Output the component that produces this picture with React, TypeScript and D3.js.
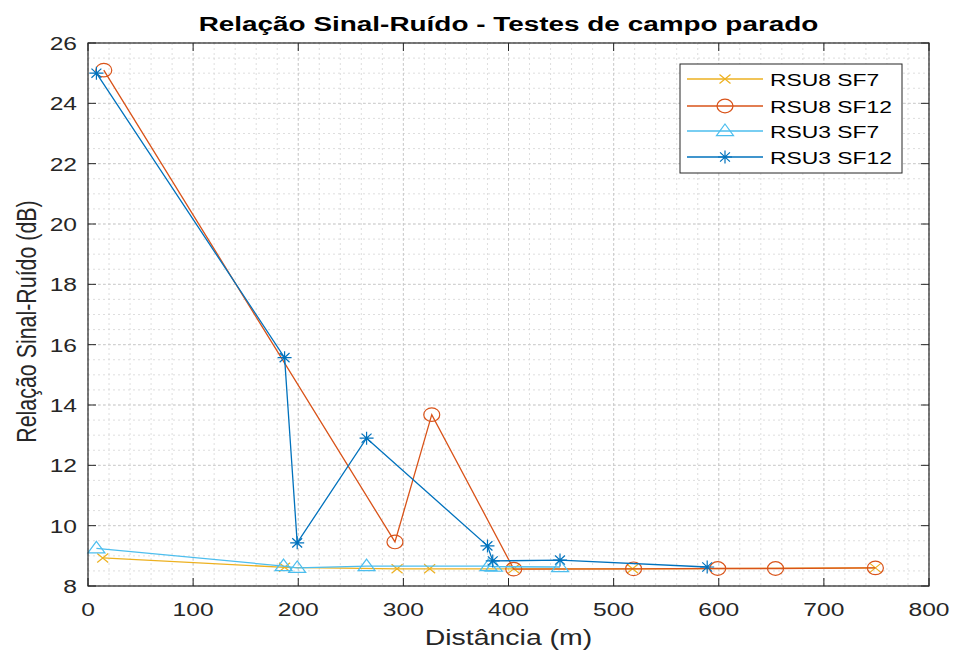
import React from "react";
import * as d3 from "d3";

const rsu8sf7X = [14, 187, 294, 325, 405, 518, 749];
const rsu8sf7Y = [8.93, 8.62, 8.57, 8.57, 8.57, 8.57, 8.6];
const rsu8sf12X = [15, 292, 327, 405, 519, 599, 654, 749];
const rsu8sf12Y = [25.1, 9.46, 13.68, 8.56, 8.57, 8.58, 8.58, 8.6];
const rsu3sf7X = [8, 186, 199, 265, 381, 386, 449];
const rsu3sf7Y = [9.25, 8.66, 8.6, 8.66, 8.66, 8.64, 8.63];
const rsu3sf12X = [8, 187, 199, 265, 380, 385, 449, 589];
const rsu3sf12Y = [25.0, 15.57, 9.43, 12.9, 9.33, 8.83, 8.86, 8.63];

const xTicks = [0, 100, 200, 300, 400, 500, 600, 700, 800];
const yTicks = [8, 10, 12, 14, 16, 18, 20, 22, 24, 26];
const seriesNames = ["RSU8 SF7", "RSU8 SF12", "RSU3 SF7", "RSU3 SF12"];

const W = 955, H = 651;
const L = 88, R = 929, T = 43, B = 586;
const SX = 1.33;
const FONT = "'Liberation Sans', Arial, Helvetica, sans-serif";

const colors = ["#EDB120", "#D95319", "#4DBEEE", "#0072BD"];
const markers = ["x", "o", "^", "*"];

function Marker({ type, x, y, color }: { type: string; x: number; y: number; color: string }) {
  const sw = 1.2;
  if (type === "x") {
    const sx = 5.5, sy = 4.5;
    return (
      <path d={`M${x - sx},${y - sy}L${x + sx},${y + sy}M${x - sx},${y + sy}L${x + sx},${y - sy}`} stroke={color} strokeWidth={sw} fill="none" />
    );
  }
  if (type === "o") {
    return <ellipse cx={x} cy={y} rx={8} ry={6.8} stroke={color} strokeWidth={sw} fill="none" />;
  }
  if (type === "^") {
    const sx = 8.5, sy = 7;
    return (
      <path d={`M${x},${y - sy}L${x + sx},${y + sy * 0.65}L${x - sx},${y + sy * 0.65}Z`} stroke={color} strokeWidth={sw} fill="none" />
    );
  }
  const sx = 7, sy = 6.5;
  const dx = sx * 0.707, dy = sy * 0.707;
  return (
    <path
      d={`M${x},${y - sy}L${x},${y + sy}M${x - sx},${y}L${x + sx},${y}M${x - dx},${y - dy}L${x + dx},${y + dy}M${x - dx},${y + dy}L${x + dx},${y - dy}`}
      stroke={color}
      strokeWidth={sw}
      fill="none"
    />
  );
}

function SText({ x, y, size, anchor, weight, fill, children }: any) {
  return (
    <text
      transform={`translate(${x},${y}) scale(${SX},1)`}
      textAnchor={anchor || "start"}
      fontSize={size}
      fontWeight={weight || "normal"}
      fill={fill || "#262626"}
    >
      {children}
    </text>
  );
}

export default function App() {
  const x = d3.scaleLinear().domain([0, 800]).range([L, R]);
  const y = d3.scaleLinear().domain([8, 26]).range([B, T]);
  const line = d3
    .line<[number, number]>()
    .x((d) => x(d[0]))
    .y((d) => y(d[1]));

  const series = [
    d3.zip(rsu8sf7X, rsu8sf7Y) as [number, number][],
    d3.zip(rsu8sf12X, rsu8sf12Y) as [number, number][],
    d3.zip(rsu3sf7X, rsu3sf7Y) as [number, number][],
    d3.zip(rsu3sf12X, rsu3sf12Y) as [number, number][],
  ];

  const minorX = d3.range(0, 801, 20);
  const minorY = d3.range(8, 26.01, 0.5);

  const legX = 680, legY = 64, legW = 222, legH = 109;
  const legRows = [79, 106, 131, 157];

  return (
    <svg width={W} height={H} style={{ position: "absolute", left: 0, top: 0, background: "#fff" }} fontFamily={FONT}>
      <rect x={0} y={0} width={W} height={H} fill="#fff" />
      {minorX.map((v) => (
        <line key={"mx" + v} x1={x(v)} x2={x(v)} y1={T} y2={B} stroke="#d6d6d6" strokeWidth={0.8} strokeDasharray="2,3" />
      ))}
      {minorY.map((v) => (
        <line key={"my" + v} x1={L} x2={R} y1={y(v)} y2={y(v)} stroke="#d6d6d6" strokeWidth={0.8} strokeDasharray="2,3" />
      ))}
      {xTicks.map((v) => (
        <line key={"gx" + v} x1={x(v)} x2={x(v)} y1={T} y2={B} stroke="#c8c8c8" strokeWidth={0.8} strokeDasharray="3,2" />
      ))}
      {yTicks.map((v) => (
        <line key={"gy" + v} x1={L} x2={R} y1={y(v)} y2={y(v)} stroke="#c8c8c8" strokeWidth={0.8} strokeDasharray="3,2" />
      ))}

      {series.map((s, i) => (
        <g key={"s" + i}>
          <path d={line(s) || ""} fill="none" stroke={colors[i]} strokeWidth={1.3} />
          {s.map((p, j) => (
            <Marker key={j} type={markers[i]} x={x(p[0])} y={y(p[1])} color={colors[i]} />
          ))}
        </g>
      ))}

      <rect x={L} y={T} width={R - L} height={B - T} fill="none" stroke="#262626" strokeWidth={1.2} />
      {xTicks.map((v) => (
        <g key={"tx" + v}>
          <line x1={x(v)} x2={x(v)} y1={B} y2={B - 8} stroke="#262626" strokeWidth={1} />
          <line x1={x(v)} x2={x(v)} y1={T} y2={T + 8} stroke="#262626" strokeWidth={1} />
          <SText x={x(v)} y={B + 30} size={18.5} anchor="middle">
            {v}
          </SText>
        </g>
      ))}
      {yTicks.map((v) => (
        <g key={"ty" + v}>
          <line x1={L} x2={L + 8} y1={y(v)} y2={y(v)} stroke="#262626" strokeWidth={1} />
          <line x1={R} x2={R - 8} y1={y(v)} y2={y(v)} stroke="#262626" strokeWidth={1} />
          <SText x={L - 11} y={y(v) + 7} size={18.5} anchor="end">
            {v}
          </SText>
        </g>
      ))}

      <SText x={(L + R) / 2} y={31} size={21} anchor="middle" weight="bold" fill="#000">
        Relação Sinal-Ruído - Testes de campo parado
      </SText>
      <SText x={(L + R) / 2} y={645} size={21.4} anchor="middle">
        Distância (m)
      </SText>
      <text
        transform={`translate(36, ${(T + B) / 2 + 7}) scale(${SX},1) rotate(-90)`}
        textAnchor="middle"
        fontSize={21.4}
        fill="#262626"
      >
        Relação Sinal-Ruído (dB)
      </text>

      <rect x={legX} y={legY} width={legW} height={legH} fill="#fff" stroke="#262626" strokeWidth={1} />
      {seriesNames.map((n, i) => (
        <g key={"l" + i}>
          <line x1={687} x2={763} y1={legRows[i]} y2={legRows[i]} stroke={colors[i]} strokeWidth={1.3} />
          <Marker type={markers[i]} x={725} y={legRows[i]} color={colors[i]} />
          <SText x={770} y={legRows[i] + 6.5} size={17.2} fill="#000">
            {n}
          </SText>
        </g>
      ))}
    </svg>
  );
}
